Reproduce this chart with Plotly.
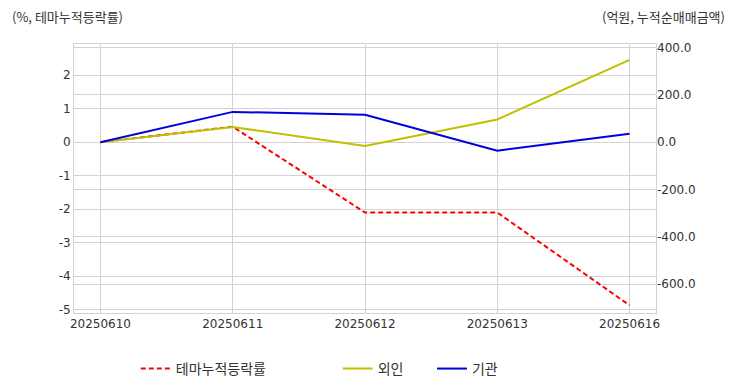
import plotly.graph_objects as go

dates = ["20250610", "20250611", "20250612", "20250613", "20250616"]
theme_cum = [0.0, 0.46, -2.1, -2.1, -4.87]
foreign = [0.0, 64.0, -16.0, 96.0, 348.0]
institution = [0.0, 128.0, 116.0, -36.0, 36.0]

left_ticks = [2, 1, 0, -1, -2, -3, -4, -5]
left_labels = ["2", "1", "0", "-1", "-2", "-3", "-4", "-5"]
right_ticks = [400, 200, 0, -200, -400, -600]
right_labels = ["400.0", "200.0", "0.0", "-200.0", "-400.0", "-600.0"]

FONT = "DejaVu Sans, Noto Sans CJK KR, sans-serif"
KFONT = "Noto Sans CJK KR, sans-serif"
GRID = "#d3d3d3"
TXT = "#333333"

fig = go.Figure()
fig.add_trace(go.Scatter(x=dates, y=theme_cum, name="테마누적등락률", mode="lines",
                         line=dict(color="#ff0000", width=2, dash="5px,3px"),
                         yaxis="y", legend="legend"))
fig.add_trace(go.Scatter(x=dates, y=foreign, name="외인", mode="lines",
                         line=dict(color="#c0c000", width=2), yaxis="y2", legend="legend2"))
fig.add_trace(go.Scatter(x=dates, y=institution, name="기관", mode="lines",
                         line=dict(color="#0000dd", width=2), yaxis="y2", legend="legend3"))

leg_common = dict(orientation="h", xanchor="left", xref="container", yref="container",
                  y=0.06, yanchor="middle",
                  font=dict(family=KFONT, size=14, color=TXT), bgcolor="rgba(0,0,0,0)")

fig.update_layout(
    width=724, height=384,
    margin=dict(l=66, r=76, t=36, b=79),
    paper_bgcolor="white", plot_bgcolor="white",
    font=dict(family=FONT, size=12, color=TXT),
    showlegend=True,
    legend=dict(x=0.1765, **leg_common),
    legend2=dict(x=0.4554, **leg_common),
    legend3=dict(x=0.5856, **leg_common),
    xaxis=dict(type="category", range=[-0.2, 4.2], showgrid=True, gridcolor=GRID,
               showline=True, linecolor=GRID, mirror=True, ticks="", zeroline=False,
               tickfont=dict(size=12), automargin=False),
    yaxis=dict(range=[-5.1, 2.93], tickvals=left_ticks, ticktext=left_labels,
               showgrid=True, gridcolor=GRID,
               showline=True, linecolor=GRID, mirror=True, zeroline=False, ticks="",
               tickfont=dict(size=12), automargin=False),
    yaxis2=dict(range=[-722, 415], overlaying="y", side="right", tickvals=right_ticks,
                ticktext=right_labels, showgrid=True, gridcolor=GRID, zeroline=False,
                ticks="", showline=False, tickfont=dict(size=12), automargin=False),
    annotations=[
        dict(text="(%, 테마누적등락률)", xref="paper", yref="paper", x=-0.110, y=1.104,
             xanchor="left", yanchor="middle", showarrow=False,
             font=dict(family=KFONT, size=13, color=TXT)),
        dict(text="(억원, 누적순매매금액)", xref="paper", yref="paper", x=1.1134, y=1.104,
             xanchor="right", yanchor="middle", showarrow=False, xshift=5,
             font=dict(family=KFONT, size=13, color=TXT)),
    ],
)

fig.write_html("out.html")
